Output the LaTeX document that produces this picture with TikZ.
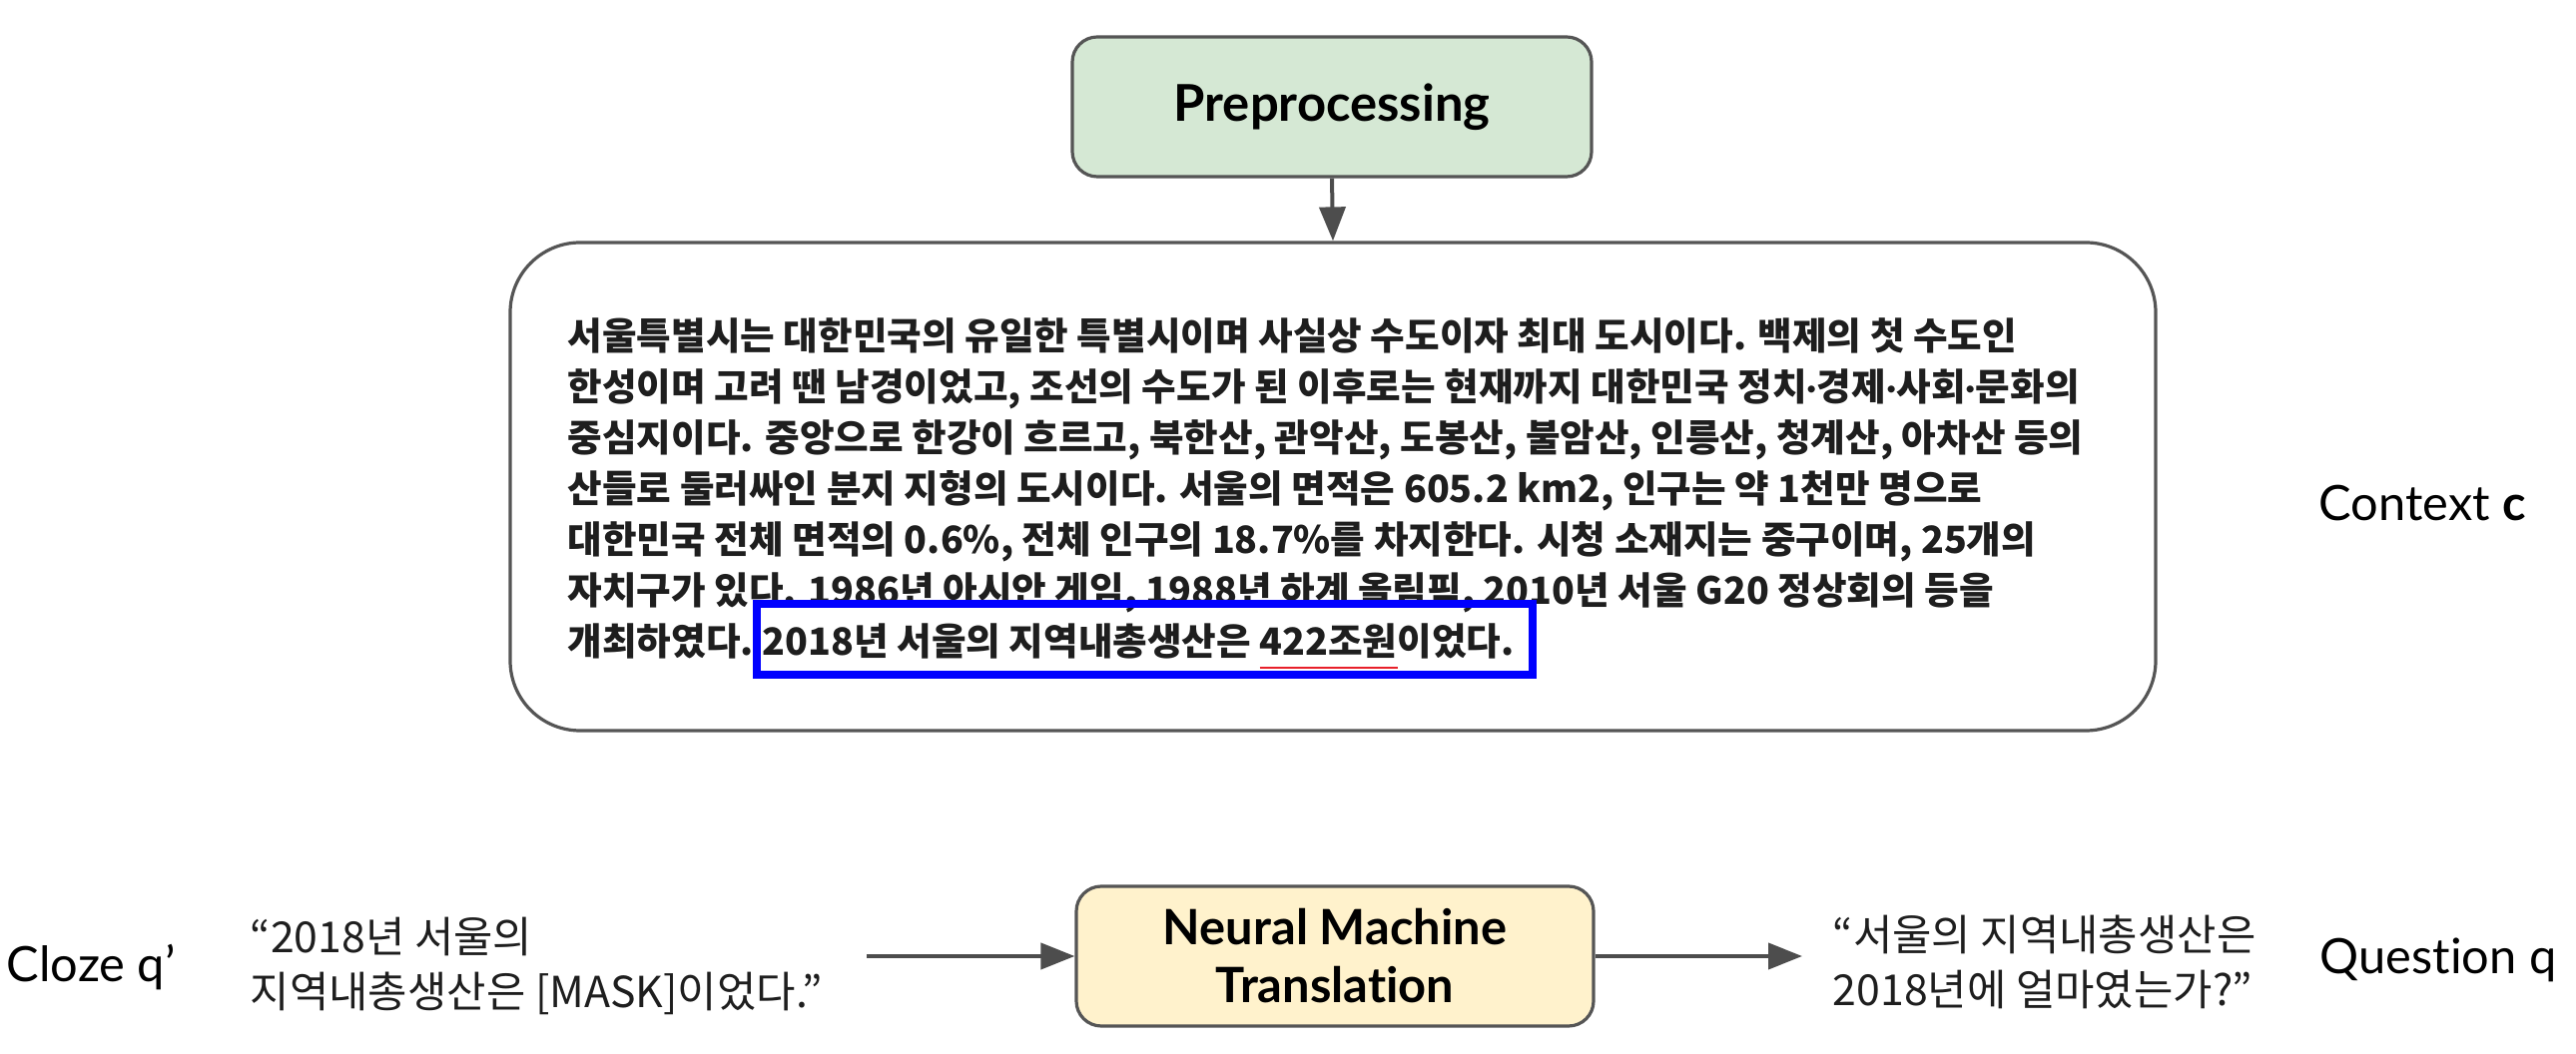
\documentclass[tikz,border=0pt]{standalone}
\usepackage{fontspec}
\setmainfont{Lato}[Ligatures=CommonOff]
\newfontfamily\kor{Noto Sans CJK KR}
\usetikzlibrary{arrows.meta}
\definecolor{strokegray}{HTML}{555555}
\definecolor{arrowgray}{HTML}{4D4D4D}
\definecolor{greenfill}{HTML}{D5E8D4}
\definecolor{yellowfill}{HTML}{FFF2CC}
\definecolor{hlblue}{HTML}{0000FF}
\definecolor{redline}{HTML}{E8202A}
\definecolor{textdark}{HTML}{1E1E1E}
\newsavebox\ulbox
\newcommand\redul[1]{\sbox\ulbox{#1}\rlap{\textcolor{redline}{\rule[-3.25pt]{\wd\ulbox}{0.5pt}}}\usebox\ulbox}
\newcommand\mdot{{\normalfont\bfseries ·}}
\begin{document}
\begin{tikzpicture}[x=0.25pt,y=-0.25pt,
  procbox/.style={draw=strokegray, line width=0.8pt, rounded corners=6.25pt, align=center, inner sep=0pt,
    font=\fontsize{12.7}{14.5}\selectfont\bfseries},
  ctxbox/.style={draw=strokegray, line width=0.8pt, rounded corners=17.5pt, inner sep=0pt},
  para/.style={anchor=base west, inner sep=0pt, align=left, text=textdark,
    font=\kor\bfseries\fontsize{9.4}{12.75}\selectfont},
  quote/.style={anchor=base west, inner sep=0pt, align=left, text=textdark,
    font=\kor\fontsize{10.7}{13.75}\selectfont},
  label/.style={anchor=base west, inner sep=0pt, font=\fontsize{12.2}{14}\selectfont},
  arr/.style={draw=arrowgray, line width=1pt, -{Triangle[length=8.5pt,width=6.5pt]}}
]
\useasboundingbox (0,0) rectangle (2580,1056);

% Preprocessing
\node (pre) [procbox, fill=greenfill, minimum width=130pt, minimum height=35pt] at (1334,107) {\raisebox{-1.6pt}{Preprocessing}};

% Context box
\node (ctx) [ctxbox, minimum width=412pt, minimum height=122.25pt] at (1335,487.5) {};

% paragraph: the base of a multi-line node is its last line
\node (p1) [para] at (568,606) {서울특별시는 대한민국의 유일한 특별시이며 사실상 수도이자 최대 도시이다. 백제의 첫 수도인\\
한성이며 고려 땐 남경이었고, 조선의 수도가 된 이후로는 현재까지 대한민국 정치\mdot 경제\mdot 사회\mdot 문화의\\
중심지이다. 중앙으로 한강이 흐르고, 북한산, 관악산, 도봉산, 불암산, 인릉산, 청계산, 아차산 등의\\
산들로 둘러싸인 분지 지형의 도시이다. 서울의 면적은 605.2 km2, 인구는 약 1천만 명으로\\
대한민국 전체 면적의 0.6\%, 전체 인구의 18.7\%를 차지한다. 시청 소재지는 중구이며, 25개의\\
자치구가 있다. 1986년 아시안 게임, 1988년 하계 올림픽, 2010년 서울 G20 정상회의 등을};
\node (p7) [para] at (568,657) {개최하였다.};
\node (hl) [para, draw=hlblue, line width=2pt, inner ysep=0pt, inner xsep=1.5pt,
  text height=13pt, text depth=4.75pt, xshift=-0.5pt] at (p7.base east)
  {2018년 서울의 지역내총생산은 \redul{422조원}이었다.\hspace{3pt}};

\node (ctxlabel) [anchor=base west, inner sep=0pt, font=\fontsize{12.2}{14}\selectfont] at (2322,522) {Context \textbf{c}};

% Bottom row
\node (cloze) [label] at (6,984) {Cloze q’};
\node (clozeq) [quote] at (250,1010) {“2018년 서울의\\지역내총생산은 [MASK]이었다.”};

\node (nmt) [procbox, fill=yellowfill, minimum width=129.5pt, minimum height=35pt,
  font=\fontsize{12.2}{14.5}\selectfont\bfseries] at (1337,958) {Neural Machine\\Translation};

\node (qq) [quote] at (1835,1008) {“서울의 지역내총생산은\\2018년에 얼마였는가?”};
\node (question) [label] at (2323,976) {Question q};

\coordinate (lstart) at (868,958);
\coordinate (rend) at (1805,958);

\draw[arr] (pre.south) -- (ctx.north);
\draw[arr] (lstart) -- (nmt.west);
\draw[arr] (nmt.east) -- (rend);
\end{tikzpicture}
\end{document}
